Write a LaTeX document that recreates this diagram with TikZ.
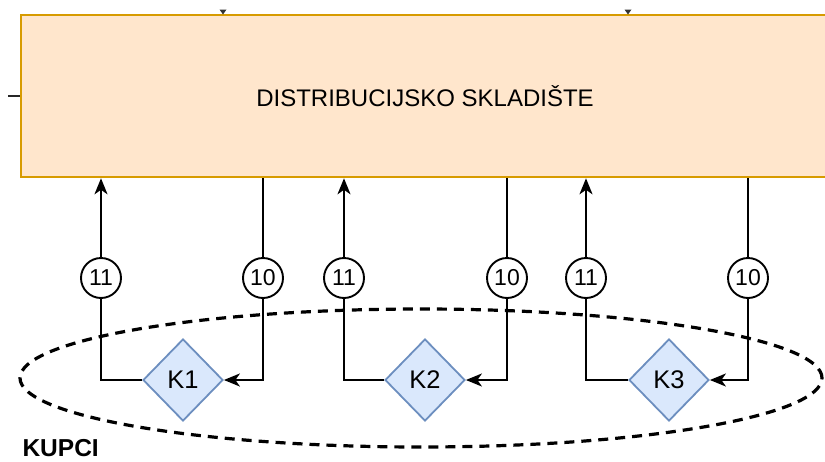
\documentclass[tikz,border=0pt]{standalone}
\usepackage{fontspec}
\setmainfont{Liberation Sans}
\usetikzlibrary{shapes.geometric,arrows.meta}
\definecolor{storefill}{HTML}{FFE6CC}
\definecolor{storedraw}{HTML}{D79B00}
\definecolor{kfill}{HTML}{DAE8FC}
\definecolor{kdraw}{HTML}{6C8EBF}
\begin{document}
\begin{tikzpicture}[x=1pt,y=-1pt,
  store/.style={rectangle, draw=storedraw, fill=storefill, line width=2.6pt,
    minimum width=808pt, minimum height=162pt, inner sep=0pt,
    font=\fontsize{24}{28}\selectfont},
  kunde/.style={diamond, draw=kdraw, fill=kfill, line width=1.8pt,
    minimum width=80pt, minimum height=82pt, inner sep=0pt,
    font=\fontsize{25.5}{30}\selectfont},
  flownum/.style={circle, draw=black, fill=white, line width=1.9pt,
    minimum size=40pt, inner sep=0pt, font=\fontsize{23}{26}\selectfont},
  region/.style={ellipse, draw=black, line width=3.2pt,
    dash pattern=on 10pt off 7pt, minimum width=802pt, minimum height=138pt,
    inner sep=0pt},
  flow/.style={draw=black, line width=2pt},
  tip/.style={-{Stealth[length=16pt,width=13pt,inset=4.5pt]}}
]
\useasboundingbox (0,0) rectangle (825,461);
\clip (0,0) rectangle (825,461);

% customer region
\node[region] (kupci) at (421,378) {};
\node[anchor=west, font=\fontsize{24.5}{28}\selectfont\bfseries] (kupcilbl) at (19,448.5) {KUPCI};

% warehouse
\node[store] (store) at (425,96) {DISTRIBUCIJSKO SKLADIŠTE};
\fill[black!80] (219.5,9.5) -- (226.5,9.5) -- (223,14.5) -- cycle;
\fill[black!80] (624.5,9.5) -- (631.5,9.5) -- (628,14.5) -- cycle;
\draw[line width=2.2pt, black!85] (8,96) -- (20,96);

% customers
\node[kunde] (k1) at (183,380) {K1};
\node[kunde] (k2) at (425,380) {K2};
\node[kunde] (k3) at (669,380) {K3};

% flow labels
\node[flownum] (a11) at (101,278) {11};
\node[flownum] (a10) at (263,278) {10};
\node[flownum] (b11) at (344,278) {11};
\node[flownum] (b10) at (507,278) {10};
\node[flownum] (c11) at (586,278) {11};
\node[flownum] (c10) at (748,278) {10};

% flows K -> store (11)
\draw[flow] (k1.west) -| (a11.south);
\draw[flow,tip] (a11.north) -- (a11 |- store.south);
\draw[flow] (k2.west) -| (b11.south);
\draw[flow,tip] (b11.north) -- (b11 |- store.south);
\draw[flow] (k3.west) -| (c11.south);
\draw[flow,tip] (c11.north) -- (c11 |- store.south);

% flows store -> K (10)
\draw[flow] (a10 |- store.south) -- (a10.north);
\draw[flow,tip] (a10.south) |- (k1.east);
\draw[flow] (b10 |- store.south) -- (b10.north);
\draw[flow,tip] (b10.south) |- (k2.east);
\draw[flow] (c10 |- store.south) -- (c10.north);
\draw[flow,tip] (c10.south) |- (k3.east);
\end{tikzpicture}
\end{document}
